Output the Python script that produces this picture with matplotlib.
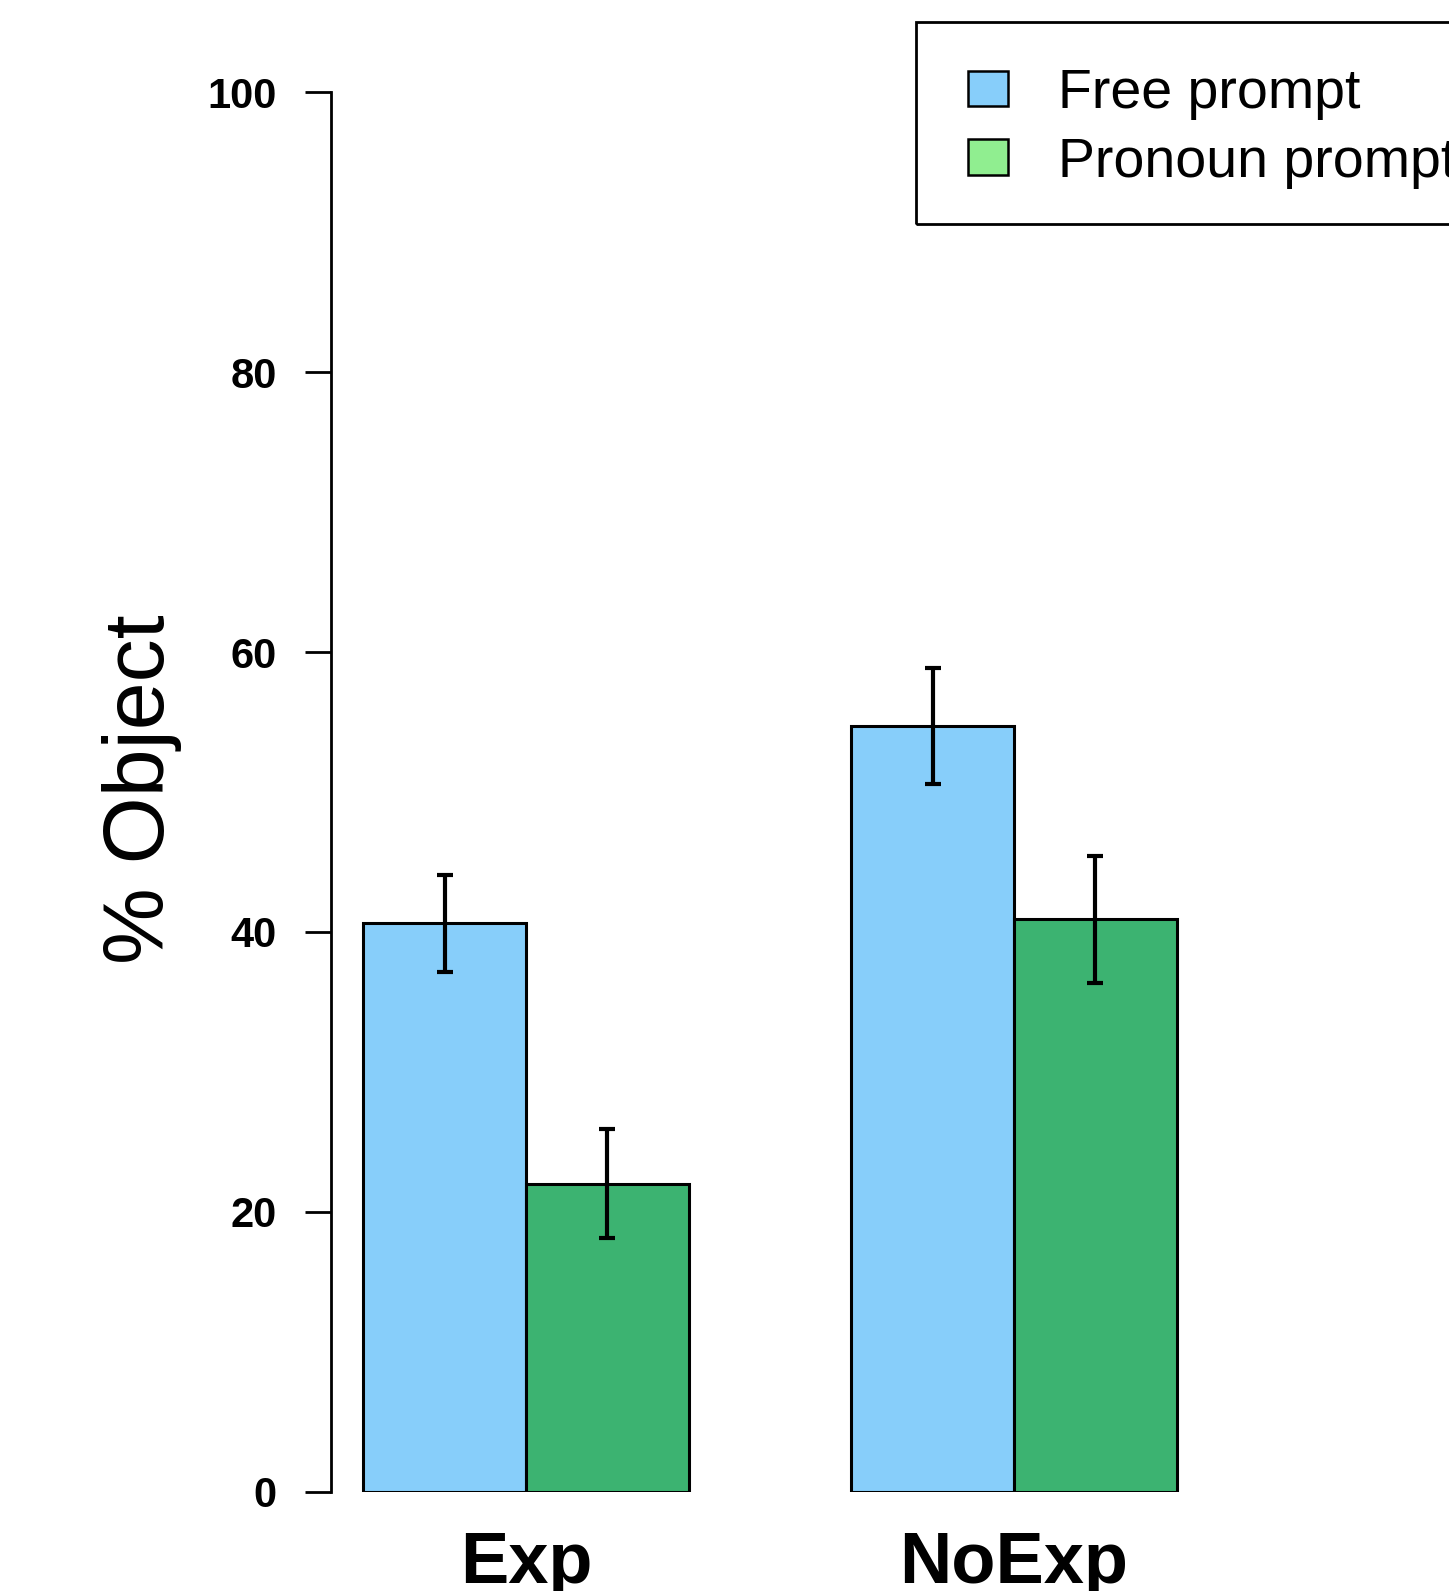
import numpy as np
import matplotlib
matplotlib.use("Agg")
import matplotlib.pyplot as plt
from matplotlib.patches import Patch, Rectangle

# data
groups = ["Exp", "NoExp"]
series = ["Free prompt", "Pronoun prompt"]
free_vals = [40.6, 54.7]
free_err = [3.5, 4.15]
pron_vals = [22.0, 40.9]
pron_err = [3.9, 4.55]
y_ticks = [0, 20, 40, 60, 80, 100]

bar_colors = ["#87CEFA", "#3CB371"]
legend_colors = ["#87CEFA", "#90EE90"]

plt.rcParams["font.family"] = ["Liberation Sans", "DejaVu Sans"]

W, H = 1449, 1591
fig = plt.figure(figsize=(W / 100, H / 100), dpi=100)

# plot region like R barplot(beside=TRUE): bars at [1,2],[2,3],[4,5],[5,6], xlim 0.8..6.2
x0, x1 = 330.8, 1209.3
ytop, ybot = 92.3, 1491.6
ax = fig.add_axes([x0 / W, (H - ybot) / H, (x1 - x0) / W, (ybot - ytop) / H])

starts = np.arange(len(groups)) * 3 + 1.0
free_x = starts + 0.5
pron_x = starts + 1.5

ax.bar(free_x, free_vals, width=1.0, color=bar_colors[0], edgecolor="black", linewidth=2.2)
ax.bar(pron_x, pron_vals, width=1.0, color=bar_colors[1], edgecolor="black", linewidth=2.2)

ax.errorbar(free_x, free_vals, yerr=free_err, fmt="none", ecolor="black",
            elinewidth=3.0, capsize=6, capthick=3.0)
ax.errorbar(pron_x, pron_vals, yerr=pron_err, fmt="none", ecolor="black",
            elinewidth=3.0, capsize=6, capthick=3.0)

ax.set_xlim(0.8, 6.2)
ax.set_ylim(0, 100)

for s in ["top", "right", "bottom"]:
    ax.spines[s].set_visible(False)
ax.spines["left"].set_linewidth(2.0)

ax.set_yticks(y_ticks)
ax.set_yticklabels([str(t) for t in y_ticks], fontsize=30, fontweight="bold")
ax.tick_params(axis="y", length=19, width=2.0, pad=20)

ax.set_xticks(starts + 1.0)
ax.set_xticklabels(groups, fontsize=52, fontweight="bold")
ax.tick_params(axis="x", length=0, pad=28)

fig.text(164.5 / W, (H - 789) / H, "% Object", rotation=90, fontsize=62,
         ha="center", va="baseline", rotation_mode="anchor")

# legend entries (no frame) plus a separate box like R's legend()
handles = [Patch(facecolor=c, edgecolor="black", linewidth=1.8) for c in legend_colors]
leg = fig.legend(handles, series, loc="upper left",
                 bbox_to_anchor=(968 / W, 1 - 68 / H), bbox_transform=fig.transFigure,
                 fontsize=40, frameon=False, borderaxespad=0, borderpad=0,
                 handlelength=0.72, handleheight=0.6,
                 handletextpad=0.9, labelspacing=0.3)
fig.add_artist(Rectangle((916 / W, 1 - 224 / H), 0.5, (224 - 22) / H,
                         transform=fig.transFigure, fill=False,
                         edgecolor="black", linewidth=2.0))

fig.savefig("out.png", dpi=100)
